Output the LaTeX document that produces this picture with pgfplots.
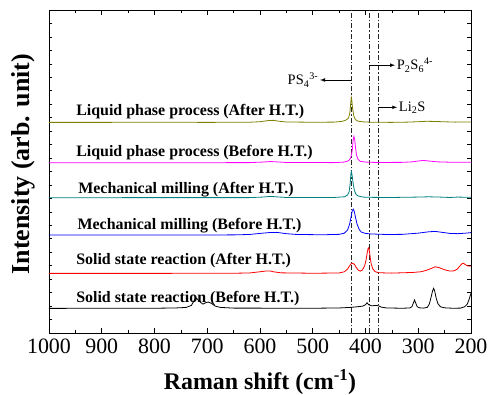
\documentclass[border=0pt]{standalone}
\usepackage{pgfplots}
\pgfplotsset{compat=1.18}
\usepackage{fontspec}
\setmainfont{Liberation Serif}
\definecolor{olivec}{RGB}{128,128,0}
\definecolor{magc}{RGB}{255,0,255}
\definecolor{tealc}{RGB}{0,128,128}
\definecolor{bluec}{RGB}{0,0,255}
\definecolor{redc}{RGB}{255,0,0}
\begin{document}
\begin{tikzpicture}
\useasboundingbox (-49bp,-62bp) rectangle (440bp,333bp);
\begin{axis}[
  at={(0,0)}, anchor=south west,
  width=422bp, height=323bp, scale only axis,
  x dir=reverse, xmin=200, xmax=1000, ymin=0, ymax=24,
  xtick={200,300,...,1000}, minor x tick num=1,
  ytick={0,1,...,24}, yticklabels={},
  tick align=inside, xtick pos=both, ytick pos=both,
  axis line style={line width=0.9bp},
  tick style={black, line width=0.6bp},
  major tick length=5bp, minor tick length=3bp,
  y tick style={/pgfplots/major tick length=3.5bp},
  ticklabel style={font=\fontsize{22}{26}\selectfont},
  xticklabel style={yshift=-2.5bp},
  /pgf/number format/assume math mode=true,
  /pgf/number format/1000 sep={},
  xlabel={\bfseries Raman shift (cm\textsuperscript{-1})},
  xlabel style={font=\fontsize{24}{28}\selectfont, anchor=center, at={(axis description cs:0.5,-0.151)}},
  ylabel={\bfseries Intensity (arb. unit)},
  ylabel style={font=\fontsize{26}{30}\selectfont, anchor=center, at={(axis description cs:-0.0616,0.523)}},
  every axis plot/.append style={line width=0.8bp},
]
% vertical reference lines
\draw[black!85, line width=0.6bp, dash pattern=on 5bp off 2bp on 1.5bp off 2bp] (axis cs:427,0) -- (axis cs:427,24);
\draw[black!85, line width=0.6bp, dash pattern=on 5bp off 2bp on 1.5bp off 2bp] (axis cs:393,0) -- (axis cs:393,24);
\draw[black!85, line width=0.6bp, dash pattern=on 5bp off 2bp on 1.5bp off 2bp] (axis cs:375,0) -- (axis cs:375,24);

% Liquid phase process (After H.T.)
\addplot[olivec] coordinates {
(1000,15.65)(900,15.65)(800,15.66)(700,15.65)(620,15.66)(600,15.70)(585,15.78)(575,15.80)(565,15.74)(550,15.68)(500,15.66)(460,15.67)(445,15.72)(437,15.82)(432,15.98)(429.5,16.4)(428,17.1)(427,17.5)(426,17.3)(424.5,16.7)(422,16.1)(419,15.85)(414,15.74)(405,15.69)(390,15.66)(350,15.65)(320,15.67)(300,15.70)(285,15.73)(270,15.72)(255,15.70)(230,15.67)(200,15.68)};
% Liquid phase process (Before H.T.)
\addplot[magc] coordinates {
(1000,12.65)(800,12.65)(620,12.66)(595,12.70)(580,12.74)(570,12.72)(550,12.67)(460,12.66)(440,12.70)(432,12.80)(428,13.0)(425,13.6)(423.5,14.3)(422,14.6)(420.5,14.4)(419,13.8)(417,13.2)(414,12.9)(410,12.76)(400,12.70)(380,12.67)(330,12.68)(310,12.72)(300,12.78)(290,12.82)(280,12.78)(265,12.72)(240,12.69)(200,12.68)};
% Mechanical milling (After H.T.)
\addplot[tealc] coordinates {
(1000,10.05)(800,10.06)(620,10.06)(595,10.10)(580,10.15)(570,10.12)(550,10.07)(460,10.07)(440,10.12)(434,10.25)(431,10.5)(429,11.1)(427.5,11.9)(426.5,12.0)(425,11.6)(423,11.0)(421,10.6)(418,10.3)(414,10.18)(405,10.10)(390,10.08)(350,10.07)(300,10.10)(280,10.12)(260,10.10)(240,10.07)(225,10.10)(200,10.08)};
% Mechanical milling (Before H.T.)
\addplot[bluec] coordinates {
(1000,7.28)(800,7.28)(650,7.29)(620,7.32)(600,7.40)(580,7.47)(565,7.46)(550,7.38)(530,7.32)(480,7.30)(450,7.33)(440,7.42)(434,7.65)(430,8.1)(427,8.7)(425,9.1)(423,9.2)(421,9.0)(419,8.6)(416,8.1)(412,7.7)(408,7.5)(400,7.40)(390,7.36)(360,7.32)(330,7.33)(300,7.42)(280,7.52)(268,7.55)(255,7.48)(240,7.40)(225,7.38)(210,7.42)(200,7.46)};
% Solid state reaction (After H.T.)
\addplot[redc] coordinates {
(1000,4.43)(800,4.43)(650,4.44)(620,4.46)(600,4.55)(590,4.60)(580,4.60)(575,4.55)(560,4.47)(500,4.44)(450,4.46)(440,4.55)(434,4.75)(430,5.0)(427,5.15)(424,5.18)(421,5.10)(418,4.90)(414,4.68)(410,4.60)(406,4.68)(402,4.95)(399,5.4)(397,5.9)(395,6.3)(394,6.34)(392.5,6.1)(391,5.6)(389,5.1)(386,4.75)(382,4.57)(376,4.48)(350,4.45)(310,4.50)(295,4.55)(285,4.65)(275,4.80)(268,4.92)(260,4.85)(250,4.70)(240,4.60)(232,4.62)(226,4.75)(221,4.98)(217,5.15)(214,5.18)(211,5.08)(206,4.98)(203,4.97)(200,4.98)};
% Solid state reaction (Before H.T.)
\addplot[black] coordinates {
(1000,1.83)(800,1.84)(760,1.86)(740,1.90)(730,2.05)(725,2.4)(721,2.6)(717,2.45)(712,2.25)(708,2.15)(703,2.25)(698,2.3)(692,2.2)(685,2.0)(675,1.9)(650,1.85)(500,1.84)(450,1.86)(430,1.90)(415,1.95)(405,2.0)(400,2.1)(397,2.25)(394,2.1)(388,2.02)(380,2.05)(375,2.02)(370,1.92)(360,1.86)(330,1.84)(316,1.86)(312,1.95)(309,2.25)(307,2.45)(305,2.25)(302,1.95)(298,1.87)(290,1.85)(283,1.90)(279,2.15)(276,2.6)(273,3.1)(271,3.32)(269,3.15)(266,2.6)(263,2.2)(258,1.95)(250,1.87)(235,1.84)(220,1.85)(212,1.95)(207,2.15)(204,2.45)(202,2.7)(200,2.95)};

% curve labels
\node[anchor=west, font=\fontsize{16}{19}\selectfont\bfseries] at (axis cs:955,16.42) {Liquid phase process (After H.T.)};
\node[anchor=west, font=\fontsize{16}{19}\selectfont\bfseries] at (axis cs:955,13.42) {Liquid phase process (Before H.T.)};
\node[anchor=west, font=\fontsize{16}{19}\selectfont\bfseries] at (axis cs:951,10.67) {Mechanical milling (After H.T.)};
\node[anchor=west, font=\fontsize{16}{19}\selectfont\bfseries] at (axis cs:952.5,7.97) {Mechanical milling (Before H.T.)};
\node[anchor=west, font=\fontsize{16}{19}\selectfont\bfseries] at (axis cs:955,5.35) {Solid state reaction (After H.T.)};
\node[anchor=west, font=\fontsize{16}{19}\selectfont\bfseries] at (axis cs:955,2.53) {Solid state reaction (Before H.T.)};

% annotations
\draw[-latex, line width=0.7bp] (axis cs:427,18.8) -- (axis cs:486,18.8)
  node[anchor=east, inner sep=1.5bp, font=\fontsize{14.5}{17}\selectfont] {PS\textsubscript{4}\textsuperscript{3-}};
\draw[-latex, line width=0.7bp] (axis cs:393,19.9) -- (axis cs:344,19.9)
  node[anchor=west, inner sep=1.5bp, font=\fontsize{14.5}{17}\selectfont] {P\textsubscript{2}S\textsubscript{6}\textsuperscript{4-}};
\draw[-latex, line width=0.7bp] (axis cs:375,16.77) -- (axis cs:340,16.77)
  node[anchor=west, inner sep=1.5bp, font=\fontsize{14.5}{17}\selectfont] {Li\textsubscript{2}S};
\end{axis}
\end{tikzpicture}
\end{document}
